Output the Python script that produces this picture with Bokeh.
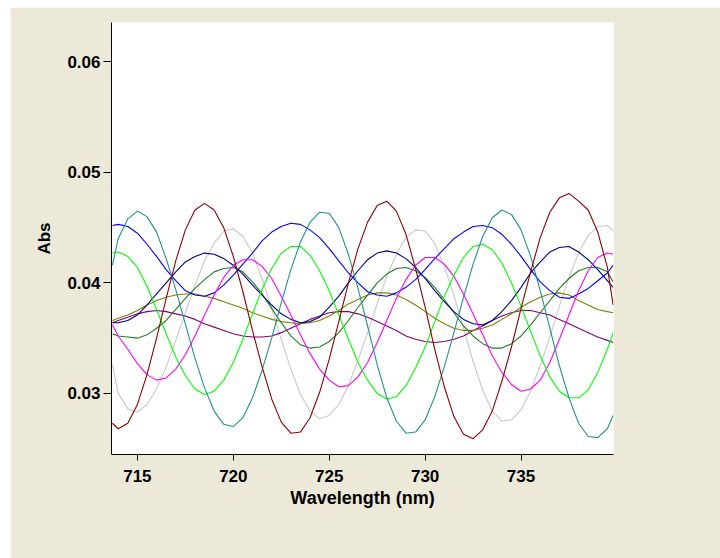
from bokeh.plotting import figure
from bokeh.models import Range1d, FixedTicker, NumeralTickFormatter
from bokeh.embed import file_html
from bokeh.resources import INLINE

# Wavelength grid (nm)
wavelength = [713.7, 714.0, 714.5,
              715.0, 715.5, 716.0, 716.5, 717.0, 717.5, 718.0, 718.5, 719.0, 719.5,
              720.0, 720.5, 721.0, 721.5, 722.0, 722.5, 723.0, 723.5, 724.0, 724.5,
              725.0, 725.5, 726.0, 726.5, 727.0, 727.5, 728.0, 728.5, 729.0, 729.5,
              730.0, 730.5, 731.0, 731.5, 732.0, 732.5, 733.0, 733.5, 734.0, 734.5,
              735.0, 735.5, 736.0, 736.5, 737.0, 737.5, 738.0, 738.5, 739.0, 739.5,
              739.8]

# Absorbance traces
abs_gray = [0.0326, 0.0300, 0.0286,
            0.0283, 0.0290, 0.0304, 0.0324, 0.0348, 0.0373, 0.0398, 0.0420, 0.0436, 0.0447,
            0.0449, 0.0442, 0.0427, 0.0404, 0.0377, 0.0349, 0.0322, 0.0299, 0.0284, 0.0277,
            0.0280, 0.0290, 0.0307, 0.0330, 0.0355, 0.0381, 0.0406, 0.0426, 0.0441, 0.0448,
            0.0447, 0.0436, 0.0415, 0.0389, 0.0359, 0.0329, 0.0303, 0.0284, 0.0275, 0.0276,
            0.0285, 0.0302, 0.0325, 0.0351, 0.0379, 0.0405, 0.0427, 0.0443, 0.0451, 0.0452,
            0.0447]
abs_purple = [0.0364, 0.0366, 0.0369,
              0.0372, 0.0374, 0.0375, 0.0374, 0.0372, 0.0370, 0.0367, 0.0363, 0.0360, 0.0357,
              0.0354, 0.0352, 0.0351, 0.0351, 0.0352, 0.0355, 0.0359, 0.0363, 0.0367, 0.0370,
              0.0373, 0.0374, 0.0374, 0.0372, 0.0369, 0.0365, 0.0361, 0.0357, 0.0352, 0.0349,
              0.0347, 0.0346, 0.0347, 0.0349, 0.0352, 0.0357, 0.0361, 0.0366, 0.0370, 0.0373,
              0.0375, 0.0375, 0.0373, 0.0371, 0.0367, 0.0363, 0.0359, 0.0355, 0.0351, 0.0348,
              0.0346]
abs_olive = [0.0366, 0.0368, 0.0371,
             0.0375, 0.0380, 0.0384, 0.0387, 0.0389, 0.0390, 0.0390, 0.0388, 0.0386, 0.0383,
             0.0380, 0.0377, 0.0373, 0.0370, 0.0367, 0.0365, 0.0364, 0.0363, 0.0364, 0.0366,
             0.0370, 0.0375, 0.0381, 0.0385, 0.0389, 0.0391, 0.0391, 0.0389, 0.0385, 0.0380,
             0.0374, 0.0368, 0.0363, 0.0359, 0.0357, 0.0357, 0.0359, 0.0362, 0.0367, 0.0372,
             0.0378, 0.0383, 0.0387, 0.0390, 0.0391, 0.0389, 0.0384, 0.0380, 0.0376, 0.0374,
             0.0373]
abs_darkgreen = [0.0354, 0.0352, 0.0351,
                 0.0350, 0.0353, 0.0359, 0.0366, 0.0376, 0.0386, 0.0395, 0.0403, 0.0410, 0.0413,
                 0.0414, 0.0410, 0.0401, 0.0390, 0.0377, 0.0364, 0.0352, 0.0344, 0.0341, 0.0342,
                 0.0347, 0.0355, 0.0366, 0.0378, 0.0389, 0.0400, 0.0408, 0.0413, 0.0414, 0.0411,
                 0.0405, 0.0396, 0.0385, 0.0373, 0.0361, 0.0352, 0.0345, 0.0341, 0.0341, 0.0345,
                 0.0352, 0.0362, 0.0373, 0.0384, 0.0395, 0.0404, 0.0411, 0.0414, 0.0414, 0.0410,
                 0.0401]
abs_navy = [0.0364, 0.0364, 0.0366,
            0.0371, 0.0380, 0.0390, 0.0400, 0.0410, 0.0419, 0.0424, 0.0427, 0.0426, 0.0422,
            0.0416, 0.0408, 0.0398, 0.0389, 0.0380, 0.0372, 0.0367, 0.0364, 0.0365, 0.0369,
            0.0378, 0.0388, 0.0400, 0.0411, 0.0421, 0.0427, 0.0429, 0.0427, 0.0422, 0.0414,
            0.0404, 0.0393, 0.0383, 0.0374, 0.0367, 0.0363, 0.0362, 0.0366, 0.0374, 0.0384,
            0.0396, 0.0409, 0.0419, 0.0428, 0.0432, 0.0433, 0.0428, 0.0421, 0.0412, 0.0402,
            0.0396]
abs_blue = [0.0452, 0.0453, 0.0451,
            0.0445, 0.0435, 0.0424, 0.0412, 0.0402, 0.0393, 0.0389, 0.0388, 0.0391, 0.0398,
            0.0407, 0.0417, 0.0427, 0.0438, 0.0446, 0.0451, 0.0454, 0.0453, 0.0448, 0.0441,
            0.0431, 0.0420, 0.0409, 0.0400, 0.0392, 0.0389, 0.0388, 0.0391, 0.0396, 0.0403,
            0.0412, 0.0422, 0.0431, 0.0440, 0.0446, 0.0451, 0.0452, 0.0450, 0.0444, 0.0435,
            0.0424, 0.0412, 0.0401, 0.0393, 0.0387, 0.0386, 0.0390, 0.0395, 0.0402, 0.0409,
            0.0416]
abs_magenta = [0.0362, 0.0352, 0.0340,
               0.0327, 0.0317, 0.0312, 0.0314, 0.0322, 0.0335, 0.0352, 0.0371, 0.0389, 0.0405,
               0.0416, 0.0421, 0.0421, 0.0415, 0.0404, 0.0388, 0.0371, 0.0353, 0.0336, 0.0322,
               0.0312, 0.0306, 0.0307, 0.0315, 0.0328, 0.0346, 0.0366, 0.0386, 0.0403, 0.0416,
               0.0423, 0.0423, 0.0417, 0.0406, 0.0390, 0.0372, 0.0353, 0.0334, 0.0319, 0.0308,
               0.0302, 0.0304, 0.0312, 0.0328, 0.0349, 0.0371, 0.0393, 0.0411, 0.0423, 0.0427,
               0.0426]
abs_lime = [0.0427, 0.0428, 0.0424,
            0.0414, 0.0397, 0.0376, 0.0354, 0.0333, 0.0316, 0.0304, 0.0299, 0.0302, 0.0312,
            0.0328, 0.0349, 0.0372, 0.0394, 0.0413, 0.0427, 0.0433, 0.0433, 0.0425, 0.0411,
            0.0393, 0.0371, 0.0349, 0.0328, 0.0312, 0.0300, 0.0295, 0.0297, 0.0307, 0.0323,
            0.0342, 0.0365, 0.0388, 0.0407, 0.0423, 0.0433, 0.0435, 0.0430, 0.0418, 0.0400,
            0.0379, 0.0356, 0.0334, 0.0315, 0.0302, 0.0296, 0.0296, 0.0303, 0.0319, 0.0340,
            0.0355]
abs_teal = [0.0416, 0.0440, 0.0458,
            0.0465, 0.0460, 0.0446, 0.0422, 0.0394, 0.0363, 0.0332, 0.0305, 0.0284, 0.0272,
            0.0270, 0.0278, 0.0296, 0.0321, 0.0350, 0.0382, 0.0412, 0.0437, 0.0455, 0.0464,
            0.0463, 0.0450, 0.0426, 0.0395, 0.0361, 0.0326, 0.0296, 0.0275, 0.0264, 0.0265,
            0.0276, 0.0297, 0.0324, 0.0355, 0.0387, 0.0417, 0.0442, 0.0459, 0.0466, 0.0462,
            0.0448, 0.0424, 0.0393, 0.0359, 0.0325, 0.0296, 0.0273, 0.0261, 0.0260, 0.0268,
            0.0280]
abs_maroon = [0.0273, 0.0268, 0.0273,
              0.0290, 0.0317, 0.0350, 0.0386, 0.0420, 0.0448, 0.0466, 0.0472, 0.0466, 0.0450,
              0.0424, 0.0392, 0.0357, 0.0324, 0.0295, 0.0274, 0.0264, 0.0265, 0.0278, 0.0301,
              0.0331, 0.0365, 0.0400, 0.0431, 0.0455, 0.0470, 0.0474, 0.0465, 0.0444, 0.0413,
              0.0378, 0.0340, 0.0306, 0.0279, 0.0263, 0.0259, 0.0267, 0.0284, 0.0311, 0.0342,
              0.0377, 0.0410, 0.0441, 0.0464, 0.0477, 0.0481, 0.0474, 0.0466, 0.0446, 0.0414,
              0.0380]

series = [
    (abs_gray, "#C8C8C8"),
    (abs_purple, "#800080"),
    (abs_olive, "#808000"),
    (abs_darkgreen, "#237D23"),
    (abs_navy, "#000080"),
    (abs_blue, "#0000FF"),
    (abs_magenta, "#FF00FF"),
    (abs_lime, "#00FF00"),
    (abs_teal, "#22908F"),
    (abs_maroon, "#8B0000"),
]

x_ticks = [715, 720, 725, 730, 735]
y_ticks = [0.03, 0.04, 0.05, 0.06]

p = figure(width=710, height=551, output_backend="svg", toolbar_location=None,
           x_range=Range1d(713.65, 739.82), y_range=Range1d(0.02447, 0.06357),
           min_border_left=101, min_border_right=107, min_border_top=15, min_border_bottom=104,
           background_fill_color="white", border_fill_color="#ECE9D8",
           outline_line_color=None, margin=(7, 0, 0, 10))

for ys, col in series:
    p.line(wavelength, ys, line_color=col, line_width=1.1)

p.grid.visible = False

font = "Liberation Sans"
for ax in (p.xaxis[0], p.yaxis[0]):
    ax.axis_line_color = "black"
    ax.axis_line_width = 1
    ax.major_tick_line_color = "black"
    ax.major_tick_in = 0
    ax.minor_tick_line_color = None
    ax.major_label_text_font = font
    ax.major_label_text_font_style = "bold"
    ax.major_label_text_font_size = "17px"
    ax.major_label_text_color = "black"
    ax.axis_label_text_font = font
    ax.axis_label_text_font_style = "bold"
    ax.axis_label_text_color = "black"

p.xaxis.ticker = FixedTicker(ticks=x_ticks)
p.xaxis.formatter = NumeralTickFormatter(format="0")
p.xaxis.major_tick_out = 6
p.xaxis.major_label_standoff = 9
p.xaxis.axis_label = "Wavelength (nm)"
p.xaxis.axis_label_text_font_size = "18px"
p.xaxis.axis_label_standoff = 3

p.yaxis.ticker = FixedTicker(ticks=y_ticks)
p.yaxis.formatter = NumeralTickFormatter(format="0.00")
p.yaxis.major_tick_out = 8
p.yaxis.major_label_standoff = 3
p.yaxis.axis_label = "Abs"
p.yaxis.axis_label_text_font_size = "17px"
p.yaxis.axis_label_standoff = 10

open("out.html", "w").write(file_html(p, INLINE))
